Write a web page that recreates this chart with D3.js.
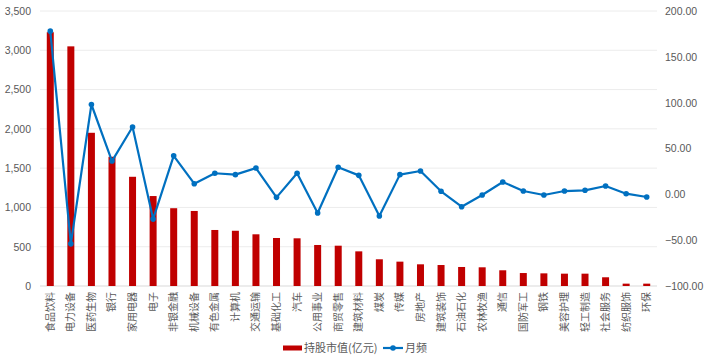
<!DOCTYPE html>
<html>
<head>
<meta charset="utf-8">
<script src="https://cdn.jsdelivr.net/npm/d3@7"></script>
<style>
  body { margin: 0; background: #fff; }
  svg { font-family: "Noto Sans CJK SC", "Liberation Sans", sans-serif; }
</style>
</head>
<body>
<svg id="chart"></svg>
<script>
const width = 706, height = 362;

const industries = ["食品饮料", "电力设备", "医药生物", "银行", "家用电器", "电子", "非银金融", "机械设备",
  "有色金属", "计算机", "交通运输", "基础化工", "汽车", "公用事业", "商贸零售", "建筑材料", "煤炭", "传媒",
  "房地产", "建筑装饰", "石油石化", "农林牧渔", "通信", "国防军工", "钢铁", "美容护理", "轻工制造",
  "社会服务", "纺织服饰", "环保"];
const holdValue = [3230, 3050, 1950, 1645, 1390, 1145, 990, 955, 713, 703, 658, 611, 607, 522, 513, 441,
  340, 310, 276, 267, 242, 238, 200, 165, 161, 157, 157, 111, 30, 30];
const monthly = [178, -54, 98, 36.3, 73.5, -27, 42, 11.6, 23, 21.5, 28.7, -3.3, 23, -20.4, 29.5, 20.7,
  -23.6, 21.5, 25.5, 3.3, -13.5, -0.7, 13.5, 3.6, -0.7, 3.6, 4.4, 9.1, 0.7, -2.9];
const leftTicks = [0, 500, 1000, 1500, 2000, 2500, 3000, 3500];
const rightTicks = [-100, -50, 0, 50, 100, 150, 200];

const margin = {top: 11, right: 49, bottom: 76, left: 40};
const innerW = width - margin.left - margin.right;
const innerH = height - margin.top - margin.bottom;

const svg = d3.select("#chart").attr("width", width).attr("height", height);
const g = svg.append("g").attr("transform", `translate(${margin.left},${margin.top})`);

const x = d3.scaleBand().domain(industries).range([0, innerW]).paddingInner(0.66).paddingOuter(0.33);
const yL = d3.scaleLinear().domain([0, 3500]).range([innerH, 0]);
const yR = d3.scaleLinear().domain([-100, 200]).range([innerH, 0]);

// gridlines
g.append("g")
  .selectAll("line")
  .data(leftTicks)
  .join("line")
  .attr("x1", 0).attr("x2", innerW)
  .attr("y1", d => yL(d)).attr("y2", d => yL(d))
  .attr("stroke", d => d === 0 ? "#d9d9d9" : "#ececec")
  .attr("stroke-width", 1);

// left axis
const axL = g.append("g")
  .call(d3.axisLeft(yL).tickValues(leftTicks).tickFormat(d3.format(",")).tickSize(0).tickPadding(9));
axL.select(".domain").remove();
axL.selectAll("text").attr("fill", "#595959").style("font-size", "10.5px").style("font-family", "Liberation Sans, Arial, sans-serif");

// right axis
const axR = g.append("g")
  .attr("transform", `translate(${innerW},0)`)
  .call(d3.axisRight(yR).tickValues(rightTicks).tickFormat(d3.format(".2f")).tickSize(0).tickPadding(8));
axR.select(".domain").remove();
axR.selectAll("text").attr("fill", "#595959").style("font-size", "10.5px").style("font-family", "Liberation Sans, Arial, sans-serif");

// bars
g.append("g")
  .selectAll("rect")
  .data(industries)
  .join("rect")
  .attr("x", (d, i) => x(d))
  .attr("y", (d, i) => yL(holdValue[i]))
  .attr("width", x.bandwidth())
  .attr("height", (d, i) => innerH - yL(holdValue[i]))
  .attr("fill", "#c00000");

// line
const pts = industries.map((d, i) => [x(d) + x.bandwidth() / 2, yR(monthly[i])]);
g.append("path")
  .attr("d", d3.line()(pts))
  .attr("fill", "none")
  .attr("stroke", "#0070c0")
  .attr("stroke-width", 2.2)
  .attr("stroke-linejoin", "round");
g.append("g")
  .selectAll("circle")
  .data(pts)
  .join("circle")
  .attr("cx", d => d[0]).attr("cy", d => d[1])
  .attr("r", 2.8)
  .attr("fill", "#0070c0");

// x labels, rotated
g.append("g")
  .selectAll("text")
  .data(industries)
  .join("text")
  .attr("transform", d => `translate(${x(d) + x.bandwidth() / 2 + 3.5},${innerH + 6}) rotate(-90)`)
  .attr("text-anchor", "end")
  .attr("fill", "#595959")
  .style("font-size", "10px")
  .text(d => d);

// legend
const lg = svg.append("g").attr("transform", "translate(283,348)");
lg.append("rect").attr("x", 0).attr("y", -2.5).attr("width", 19).attr("height", 5).attr("fill", "#c00000");
lg.append("text").attr("x", 21).attr("y", 4).attr("fill", "#595959").style("font-size", "11px").text("持股市值(亿元)");
lg.append("line").attr("x1", 100).attr("x2", 120).attr("y1", 0).attr("y2", 0).attr("stroke", "#0070c0").attr("stroke-width", 2.2);
lg.append("circle").attr("cx", 110).attr("cy", 0).attr("r", 2.8).attr("fill", "#0070c0");
lg.append("text").attr("x", 122).attr("y", 4).attr("fill", "#595959").style("font-size", "11px").text("月频");
</script>
</body>
</html>
